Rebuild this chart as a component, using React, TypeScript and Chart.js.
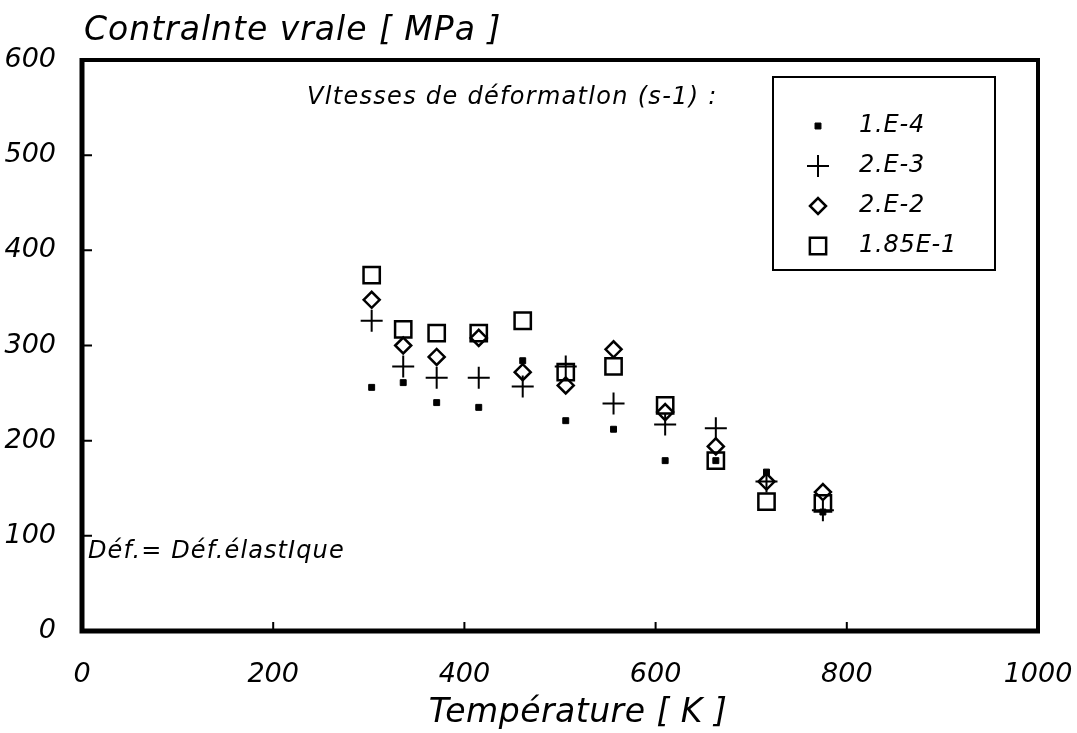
import React, { useEffect, useRef } from 'react';
import { Chart, registerables } from 'chart.js';
import { drawPoint } from 'chart.js/helpers';

Chart.register(...registerables);

// ---- data ----
const temperatures = [303, 336, 371, 415, 461, 506, 556, 610, 663, 716, 775];
const rate1E4 = [256, 261, 240, 235, 284, 221, 212, 179, 179, 167, 125];
const rate2E3 = [326, 278, 266, 266, 257, 278, 239, 217, 213, 157, 127];
const rate2E2 = [348, 300, 288, 308, 272, 258, 296, 230, 194, 157, 146];
const rate185E1 = [374, 317, 313, 313, 326, 272, 278, 237, 179, 136, 134];
const seriesLabels = ['1.E-4', '2.E-3', '2.E-2', '1.85E-1'];
const xTickValues = [0, 200, 400, 600, 800, 1000];
const yTickValues = [0, 100, 200, 300, 400, 500, 600];

const yTitle = 'Contralnte vrale [ MPa ]';
const xTitle = 'Température [ K ]';
const legendTitle = 'Vltesses de déformatlon (s-1) :';
const noteText = 'Déf.= Déf.élastIque';

const FONT = "'DejaVu Sans', sans-serif";

const markerStyles = [
  { pointStyle: 'rect', radius: 4.2, borderWidth: 1, fill: true },
  { pointStyle: 'cross', radius: 11, borderWidth: 2, fill: false },
  { pointStyle: 'rectRot', radius: 8, borderWidth: 2.5, fill: false },
  { pointStyle: 'rect', radius: 11.5, borderWidth: 2.5, fill: false },
];

const annotationPlugin = {
  id: 'annotationPlugin',
  afterDraw(chart: any) {
    const { ctx, chartArea: a, scales } = chart;
    ctx.save();
    ctx.strokeStyle = '#000';
    ctx.fillStyle = '#000';
    // frame
    ctx.lineWidth = 4;
    ctx.strokeRect(a.left, a.top, a.right - a.left, a.bottom - a.top);
    ctx.lineWidth = 5;
    ctx.beginPath();
    ctx.moveTo(a.left, a.top - 2);
    ctx.lineTo(a.left, a.bottom);
    ctx.lineTo(a.right + 2, a.bottom);
    ctx.stroke();
    // inward ticks
    ctx.lineWidth = 2;
    ctx.beginPath();
    for (const v of xTickValues.slice(1, -1)) {
      const px = scales.x.getPixelForValue(v);
      ctx.moveTo(px, a.bottom);
      ctx.lineTo(px, a.bottom - 9);
    }
    for (const v of yTickValues.slice(1, -1)) {
      const py = scales.y.getPixelForValue(v);
      ctx.moveTo(a.left, py);
      ctx.lineTo(a.left + 10, py);
    }
    ctx.stroke();

    const setSpacing = (px: number) => {
      try { (ctx as any).letterSpacing = `${px}px`; } catch (e) { /* ignore */ }
    };

    // y title (top-left, horizontal)
    ctx.font = `italic 33px ${FONT}`;
    ctx.textAlign = 'left';
    ctx.textBaseline = 'middle';
    setSpacing(1);
    ctx.fillText(yTitle, a.left + 2, a.top - 29);

    // x title (below the tick labels)
    ctx.textAlign = 'center';
    setSpacing(0.5);
    ctx.fillText(xTitle, (a.left + a.right) / 2 + 18, a.bottom + 82);
    ctx.textAlign = 'left';

    // legend heading
    ctx.font = `italic 24px ${FONT}`;
    setSpacing(1.3);
    ctx.fillText(legendTitle, a.left + 225, a.top + 38);

    // legend box
    const bx = a.right - 265;
    const bw = 222;
    const by = a.top + 17;
    const bh = 193;
    setSpacing(0);
    ctx.lineWidth = 2;
    ctx.strokeRect(bx, by, bw, bh);
    seriesLabels.forEach((label, i) => {
      const ry = by + 49 + i * 40;
      const m = markerStyles[i];
      ctx.save();
      ctx.lineWidth = m.borderWidth;
      ctx.strokeStyle = '#000';
      ctx.fillStyle = m.fill ? '#000' : 'rgba(0,0,0,0)';
      drawPoint(ctx, { pointStyle: m.pointStyle as any, radius: m.radius, rotation: 0, borderWidth: m.borderWidth }, bx + 45, ry);
      ctx.restore();
      ctx.font = `italic 24px ${FONT}`;
      ctx.textAlign = 'left';
      ctx.textBaseline = 'middle';
      setSpacing(0.8);
      ctx.fillText(label, bx + 86, ry);
    });

    // note
    ctx.font = `italic 24px ${FONT}`;
    setSpacing(1.1);
    ctx.fillText(noteText, a.left + 6, a.top + 492);
    setSpacing(0);
    ctx.restore();
  },
};

export default function App() {
  const canvasRef = useRef<HTMLCanvasElement | null>(null);

  useEffect(() => {
    const canvas = canvasRef.current;
    if (!canvas) return;
    const series = [rate1E4, rate2E3, rate2E2, rate185E1];
    const chart = new Chart(canvas, {
      type: 'scatter',
      data: {
        datasets: series.map((vals, i) => ({
          label: seriesLabels[i],
          data: temperatures.map((t, j) => ({ x: t, y: vals[j] })),
          pointStyle: markerStyles[i].pointStyle as any,
          pointRadius: markerStyles[i].radius,
          pointBorderWidth: markerStyles[i].borderWidth,
          borderColor: '#000',
          backgroundColor: markerStyles[i].fill ? '#000' : 'rgba(0,0,0,0)',
          showLine: false,
        })),
      },
      options: {
        animation: false,
        responsive: false,
        devicePixelRatio: 1,
        layout: { padding: { top: 60, right: 39, bottom: 0, left: 0 } },
        plugins: {
          legend: { display: false },
          tooltip: { enabled: false },
          title: { display: false },
        },
        scales: {
          x: {
            type: 'linear',
            min: 0,
            max: 1000,
            afterFit: (s: any) => { s.height = 102; s.paddingLeft = 0; s.paddingRight = 0; },
            afterBuildTicks: (s: any) => { s.ticks = xTickValues.map((v) => ({ value: v })); },
            grid: { display: false },
            border: { display: false },
            ticks: {
              color: '#000',
              padding: 20,
              maxRotation: 0,
              callback: (v: any) => String(v),
              font: { family: FONT, size: 27, style: 'italic' },
            },
            title: { display: false, text: xTitle },
          },
          y: {
            type: 'linear',
            min: 0,
            max: 600,
            afterFit: (s: any) => { s.width = 82; s.paddingTop = 0; s.paddingBottom = 0; },
            afterBuildTicks: (s: any) => { s.ticks = yTickValues.map((v) => ({ value: v })); },
            grid: { display: false },
            border: { display: false },
            ticks: {
              color: '#000',
              padding: 18,
              callback: (v: any) => String(v),
              font: { family: FONT, size: 27, style: 'italic' },
            },
          },
        },
      },
      plugins: [annotationPlugin],
    });
    return () => chart.destroy();
  }, []);

  return (
    <div style={{ position: 'absolute', left: 0, top: 0, width: 1077, height: 733, background: '#fff' }}>
      <canvas ref={canvasRef} width={1077} height={733} style={{ display: 'block', width: 1077, height: 733 }} />
    </div>
  );
}
